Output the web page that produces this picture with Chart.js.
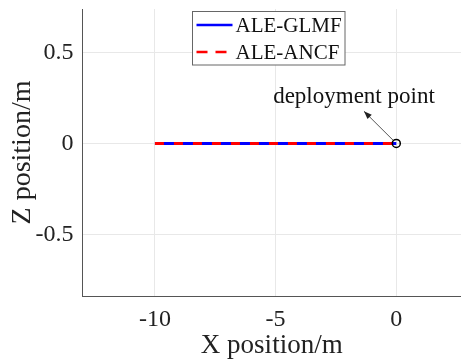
<!DOCTYPE html>
<html><head><meta charset="utf-8">
<script src="https://cdn.jsdelivr.net/npm/chart.js@4/dist/chart.umd.min.js"></script>
<style>html,body{margin:0;padding:0;background:#fff}#w{width:461px;height:362px}</style>
</head><body><div id="w"><canvas id="c" width="461" height="362"></canvas></div>
<script>
const xGLMF = [-10, -8, -6, -4, -2, 0];
const zGLMF = [0, 0, 0, 0, 0, 0];
const xANCF = [-10, -8, -6, -4, -2, 0];
const zANCF = [0, 0, 0, 0, 0, 0];
const deployX = [0];
const deployZ = [0];
const xTicks = [-10, -5, 0];
const yTicks = [-0.5, 0, 0.5];
const labels = ['ALE-GLMF', 'ALE-ANCF'];
const annotText = 'deployment point';
const annotFrom = [-1.34, 0.177];

const serif = "'Liberation Serif','Times New Roman',serif";
const pts = (xs, ys) => xs.map((x, i) => ({x, y: ys[i]}));

const overlay = {
  id: 'overlay',
  afterDatasetsDraw(chart) {
    const ctx = chart.ctx, xs = chart.scales.x, ys = chart.scales.y;
    const x0 = xs.getPixelForValue(deployX[0]), y0 = ys.getPixelForValue(deployZ[0]);
    const x1 = xs.getPixelForValue(annotFrom[0]), y1 = ys.getPixelForValue(annotFrom[1]);
    const ang = Math.atan2(y1 - y0, x1 - x0);
    const r = 4.5;
    ctx.save();
    ctx.strokeStyle = '#555'; ctx.lineWidth = 1;
    ctx.beginPath(); ctx.moveTo(x0 + r*Math.cos(ang), y0 + r*Math.sin(ang)); ctx.lineTo(x1, y1); ctx.stroke();
    ctx.fillStyle = '#222';
    const L = 8, W = 3;
    ctx.beginPath();
    ctx.moveTo(x1, y1);
    ctx.lineTo(x1 - L*Math.cos(ang) + W*Math.sin(ang), y1 - L*Math.sin(ang) - W*Math.cos(ang));
    ctx.lineTo(x1 - L*Math.cos(ang) - W*Math.sin(ang), y1 - L*Math.sin(ang) + W*Math.cos(ang));
    ctx.closePath(); ctx.fill();
    ctx.font = '23px ' + serif; ctx.fillStyle = '#111';
    ctx.textAlign = 'center'; ctx.textBaseline = 'alphabetic';
    ctx.fillText(annotText, x1 - 10, y1 - 8);
    // legend
    const lx = 192.5, ly = 11.5, lw = 152.5, lh = 53.5;
    ctx.fillStyle = '#fff'; ctx.fillRect(lx, ly, lw, lh);
    ctx.strokeStyle = '#666'; ctx.lineWidth = 1; ctx.strokeRect(lx, ly, lw, lh);
    const ds = chart.data.datasets;
    [0, 1].forEach(i => {
      const yy = ly + 13.5 + i * 27;
      ctx.strokeStyle = ds[i].borderColor; ctx.lineWidth = 2.5;
      ctx.setLineDash(i === 1 ? [11, 8] : []);
      ctx.beginPath(); ctx.moveTo(lx + 4, yy); ctx.lineTo(lx + 40, yy); ctx.stroke();
      ctx.setLineDash([]);
      ctx.fillStyle = '#111'; ctx.font = '21px ' + serif;
      ctx.textAlign = 'left'; ctx.textBaseline = 'middle';
      ctx.fillText(ds[i].label, lx + 43, yy + 1);
    });
    ctx.restore();
  }
};

new Chart(document.getElementById('c'), {
  type: 'scatter',
  data: { datasets: [
    { label: labels[0], data: pts(xGLMF, zGLMF), showLine: true, borderColor: '#0000ff', borderWidth: 3, pointRadius: 0, order: 2 },
    { label: labels[1], data: pts(xANCF, zANCF), showLine: true, borderColor: '#ff0000', borderWidth: 3, borderDash: [9, 10], pointRadius: 0, order: 1 },
    { label: 'deploy', data: pts(deployX, deployZ), pointRadius: 4, pointBorderColor: '#000', pointBackgroundColor: 'rgba(0,0,0,0)', pointBorderWidth: 1.5, order: 0 }
  ]},
  options: {
    responsive: false, animation: false, devicePixelRatio: 1,
    layout: { autoPadding: false, padding: { top: 9, right: 0, left: 0, bottom: 0 } },
    plugins: { legend: { display: false }, tooltip: { enabled: false } },
    scales: {
      x: {
        type: 'linear', min: -13, max: 2.68,
        afterBuildTicks: s => { s.ticks = xTicks.map(v => ({value: v})); },
        afterFit: s => { s.height = 66; s.paddingLeft = 0; s.paddingRight = 0; },
        grid: { color: '#e8e8e8', drawTicks: false },
        border: { color: '#555', width: 1 },
        ticks: { font: { family: serif, size: 24 }, color: '#222', padding: 9 },
        title: { display: true, text: 'X position/m', font: { family: serif, size: 27 }, color: '#222', padding: { top: 5, bottom: 0 } }
      },
      y: {
        type: 'linear', min: -0.84, max: 0.74,
        afterBuildTicks: s => { s.ticks = yTicks.map(v => ({value: v})); },
        afterFit: s => { s.width = 82.5; s.paddingTop = 0; s.paddingBottom = 0; },
        grid: { color: '#e8e8e8', drawTicks: false },
        border: { color: '#555', width: 1 },
        ticks: { font: { family: serif, size: 24 }, color: '#222', padding: 9 },
        title: { display: true, text: 'Z position/m', font: { family: serif, size: 28 }, color: '#222', padding: { top: 6, bottom: 0 } }
      }
    }
  },
  plugins: [overlay]
});
</script></body></html>
